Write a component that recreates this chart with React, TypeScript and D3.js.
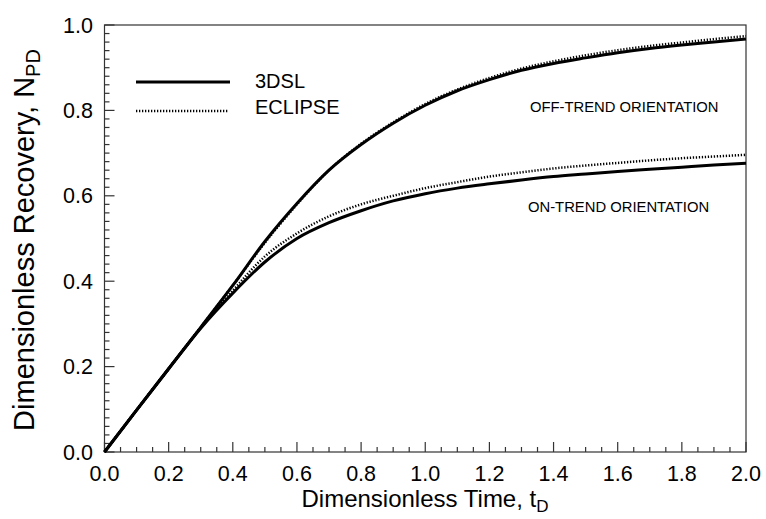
import React from "react";
import * as d3 from "d3";

// Dimensionless time samples
const tD = [0, 0.1, 0.2, 0.3, 0.4, 0.5, 0.6, 0.7, 0.8, 0.9, 1.0, 1.1, 1.2, 1.3, 1.4, 1.5, 1.6, 1.7, 1.8, 1.9, 2.0];

// Off-trend orientation recovery
const offTrend3DSL = [0, 0.098, 0.195, 0.292, 0.39, 0.493, 0.582, 0.66, 0.72, 0.77, 0.812, 0.846, 0.872, 0.894, 0.91, 0.923, 0.935, 0.945, 0.953, 0.96, 0.967];
const offTrendEclipse = [0, 0.098, 0.195, 0.292, 0.39, 0.49, 0.58, 0.66, 0.722, 0.772, 0.815, 0.849, 0.876, 0.898, 0.915, 0.929, 0.941, 0.951, 0.959, 0.967, 0.974];

// On-trend orientation recovery
const onTrend3DSL = [0, 0.098, 0.195, 0.29, 0.372, 0.445, 0.5, 0.537, 0.565, 0.588, 0.605, 0.618, 0.628, 0.637, 0.645, 0.651, 0.657, 0.662, 0.667, 0.672, 0.676];
const onTrendEclipse = [0, 0.098, 0.195, 0.291, 0.378, 0.458, 0.512, 0.552, 0.58, 0.6, 0.618, 0.632, 0.645, 0.655, 0.664, 0.671, 0.677, 0.683, 0.688, 0.692, 0.696];

const xTicks = [0, 0.2, 0.4, 0.6, 0.8, 1.0, 1.2, 1.4, 1.6, 1.8, 2.0];
const yTicks = [0, 0.2, 0.4, 0.6, 0.8, 1.0];

const W = 766;
const H = 519;
const left = 104.5;
const right = 746;
const top = 25;
const bottom = 452;

const FONT = "'Liberation Sans', Arial, Helvetica, sans-serif";

export default function App() {
  const x = d3.scaleLinear().domain([0, 2]).range([left, right]);
  const y = d3.scaleLinear().domain([0, 1]).range([bottom, top]);

  const line = d3
    .line<number>()
    .x((_, i) => x(tD[i]))
    .y((d) => y(d))
    .curve(d3.curveMonotoneX);

  const xMinor = d3.range(0, 2.0001, 0.05).map((v) => +v.toFixed(3));
  const yMinor = d3.range(0, 1.0001, 0.02).map((v) => +v.toFixed(3));
  const isMajor = (v: number) => Math.abs(v / 0.2 - Math.round(v / 0.2)) < 1e-6;

  const axisColor = "#333";

  return (
    <svg
      width={W}
      height={H}
      style={{ position: "absolute", left: 0, top: 0, background: "#fff" }}
      fontFamily={FONT}
    >
      <rect x={0} y={0} width={W} height={H} fill="#fff" />

      {/* frame */}
      <rect
        x={left}
        y={top}
        width={right - left}
        height={bottom - top}
        fill="none"
        stroke={axisColor}
        strokeWidth={1.2}
      />

      {/* x ticks */}
      {xMinor.map((v) => (
        <line
          key={"xt" + v}
          x1={x(v)}
          x2={x(v)}
          y1={bottom}
          y2={bottom - (isMajor(v) ? 10 : 5)}
          stroke={axisColor}
          strokeWidth={1.2}
        />
      ))}
      {/* y ticks */}
      {yMinor.map((v) => (
        <line
          key={"yt" + v}
          x1={left}
          x2={left + (isMajor(v) ? 10 : 5)}
          y1={y(v)}
          y2={y(v)}
          stroke={axisColor}
          strokeWidth={1.2}
        />
      ))}

      {/* tick labels */}
      {xTicks.map((v) => (
        <text key={"xl" + v} x={x(v)} y={481} fontSize={21.5} textAnchor="middle" fill="#000">
          {v.toFixed(1)}
        </text>
      ))}
      {yTicks.map((v) => (
        <text key={"yl" + v} x={93} y={y(v) + 7.5} fontSize={21.5} textAnchor="end" fill="#000">
          {v.toFixed(1)}
        </text>
      ))}

      {/* axis titles */}
      <text x={425} y={507} fontSize={24} textAnchor="middle" fill="#000">
        Dimensionless Time, t
        <tspan fontSize={17} dy={5}>D</tspan>
      </text>
      <text
        transform={`translate(34, 240) rotate(-90)`}
        fontSize={29}
        textAnchor="middle"
        fill="#000"
      >
        Dimensionless Recovery, N
        <tspan fontSize={20} dy={6}>PD</tspan>
      </text>

      {/* curves */}
      <path d={line(offTrend3DSL) || ""} fill="none" stroke="#000" strokeWidth={3} />
      <path d={line(onTrend3DSL) || ""} fill="none" stroke="#000" strokeWidth={3} />
      <path
        d={line(offTrendEclipse) || ""}
        fill="none"
        stroke="#000"
        strokeWidth={2.5}
        strokeDasharray="1.3,1.7"
      />
      <path
        d={line(onTrendEclipse) || ""}
        fill="none"
        stroke="#000"
        strokeWidth={2.5}
        strokeDasharray="1.3,1.7"
      />

      {/* legend */}
      <line x1={136} x2={230} y1={82} y2={82} stroke="#000" strokeWidth={3} />
      <line
        x1={136}
        x2={228}
        y1={111}
        y2={111}
        stroke="#000"
        strokeWidth={2.5}
        strokeDasharray="1.3,1.7"
      />
      <text x={255} y={88} fontSize={20} fill="#000">3DSL</text>
      <text x={255} y={114} fontSize={20} fill="#000">ECLIPSE</text>

      {/* annotations */}
      <text x={530} y={112} fontSize={14.8} fill="#000">OFF-TREND ORIENTATION</text>
      <text x={528} y={212} fontSize={14.8} fill="#000">ON-TREND ORIENTATION</text>
    </svg>
  );
}
